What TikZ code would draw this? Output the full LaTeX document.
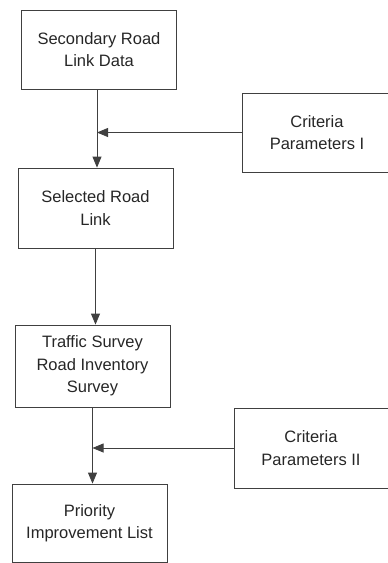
\documentclass[tikz,border=0pt]{standalone}
\usepackage{fontspec}
\setmainfont{Liberation Sans}
\usetikzlibrary{arrows.meta}
\begin{document}
\begin{tikzpicture}[x=1pt,y=-1pt,
  box/.style={draw=black!75,line width=0.8pt,minimum width=155pt,align=center,
    font=\fontsize{16.5}{22.5}\selectfont,text=black!85,inner sep=0pt},
  flow/.style={draw=black!75,line width=0.8pt,-{Triangle[length=11pt,width=9pt]}}]
\useasboundingbox (0,0) rectangle (388,563);
\clip (0,0) rectangle (388,563);
\node[box,minimum height=79pt] (b1) at (99,49.5) {Secondary Road\\Link Data};
\node[box,minimum height=80pt] (b2) at (95.5,208) {Selected Road\\Link};
\node[box,minimum height=82pt] (b3) at (92.5,366) {Traffic Survey\\Road Inventory\\Survey};
\node[box,minimum height=78pt] (b4) at (89.5,523) {Priority\\Improvement List};
\node[box,minimum width=150pt,minimum height=79pt] (c1) at (317,132.5) {Criteria\\Parameters I};
\node[box,minimum width=154pt,minimum height=80pt] (c2) at (311,448) {Criteria\\Parameters II};
\coordinate (j1) at ([xshift=-2pt]b1.south |- c1.west);
\coordinate (j2) at (b3.south |- c2.west);
\draw[flow] ([xshift=-2pt]b1.south) -- ([xshift=-2pt]b1.south |- b2.north);
\draw[flow] (c1.west) -- (j1);
\draw[flow] (b2.south) -- (b2.south |- b3.north);
\draw[flow] (b3.south) -- (b3.south |- b4.north);
\draw[flow] (c2.west) -- (j2);
\end{tikzpicture}
\end{document}
